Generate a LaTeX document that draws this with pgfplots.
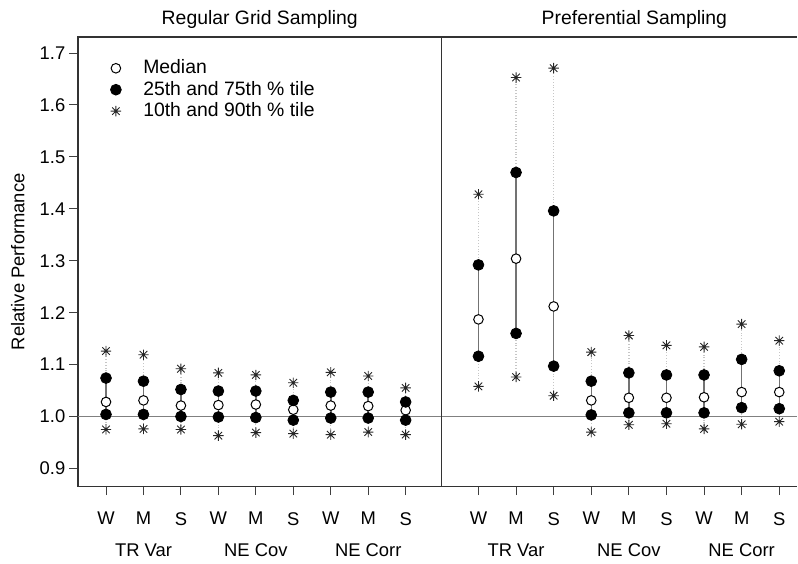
\documentclass[border=0pt]{standalone}
\usepackage{fontspec}
\setmainfont{Liberation Sans}
\usepackage{pgfplots}
\usepackage{pgfplotstable}
\pgfplotsset{compat=1.18}

% percentiles per method: 10th, 25th, median, 75th, 90th
\pgfplotstableread{
x p10   p25   p50   p75   p90
1 0.975 1.004 1.028 1.074 1.126
2 0.976 1.004 1.031 1.068 1.119
3 0.975 1.000 1.021 1.052 1.092
4 0.963 0.999 1.022 1.049 1.084
5 0.969 0.998 1.023 1.049 1.080
6 0.967 0.993 1.013 1.031 1.065
7 0.965 0.997 1.021 1.047 1.085
8 0.970 0.997 1.020 1.047 1.078
9 0.965 0.993 1.012 1.028 1.055
}\gridtab
\pgfplotstableread{
x p10   p25   p50   p75   p90
1 1.058 1.116 1.187 1.292 1.428
2 1.076 1.160 1.304 1.470 1.653
3 1.040 1.097 1.212 1.396 1.671
4 0.970 1.003 1.031 1.068 1.124
5 0.984 1.007 1.036 1.084 1.156
6 0.986 1.007 1.036 1.080 1.137
7 0.976 1.007 1.037 1.080 1.134
8 0.985 1.017 1.047 1.110 1.178
9 0.990 1.015 1.047 1.088 1.146
}\preftab

% R-style pch 8 asterisk
\pgfdeclareplotmark{rstar}{%
  \pgfpathmoveto{\pgfqpoint{-\pgfplotmarksize}{0pt}}\pgfpathlineto{\pgfqpoint{\pgfplotmarksize}{0pt}}%
  \pgfpathmoveto{\pgfqpoint{0pt}{-\pgfplotmarksize}}\pgfpathlineto{\pgfqpoint{0pt}{\pgfplotmarksize}}%
  \pgfpathmoveto{\pgfqpoint{-0.72\pgfplotmarksize}{-0.72\pgfplotmarksize}}\pgfpathlineto{\pgfqpoint{0.72\pgfplotmarksize}{0.72\pgfplotmarksize}}%
  \pgfpathmoveto{\pgfqpoint{-0.72\pgfplotmarksize}{0.72\pgfplotmarksize}}\pgfpathlineto{\pgfqpoint{0.72\pgfplotmarksize}{-0.72\pgfplotmarksize}}%
  \pgfusepathqstroke}

\pgfplotsset{
  panel/.style={
    scale only axis, height=225pt,
    ymin=0.865, ymax=1.731,
    xtick={1,...,9},
    xticklabels={W,{M\\[5.5pt]TR Var},S,W,{M\\[5.5pt]NE Cov},S,W,{M\\[5.5pt]NE Corr},S},
    xticklabel style={align=center, yshift=-5pt},
    tick align=outside, tick pos=left,
    major tick length=4.3pt,
    tick style={black!75, line width=0.5pt},
    axis line style={black!80, line width=0.6pt, -},
    font=\fontsize{9.2}{10.5}\selectfont,
    every axis title shift=0pt,
    title style={font=\fontsize{9.7}{11}\selectfont, anchor=base, yshift=6pt},
    /pgf/number format/assume math mode=true,
    clip=false,
  },
  whisk/.style={only marks, mark=none, forget plot,
    error bars/.cd, y dir=both, y explicit, error mark=none,
    error bar style={gray!45, densely dotted, line width=0.65pt}},
  box/.style={only marks, mark=none, forget plot,
    error bars/.cd, y dir=both, y explicit, error mark=none,
    error bar style={black!55, solid, line width=0.75pt}},
  med/.style={only marks, mark=*, mark size=2.4pt, mark options={fill=white, draw=black, line width=0.5pt}},
  quart/.style={only marks, mark=*, mark size=2.7pt, mark options={fill=black, draw=black}},
  tail/.style={only marks, mark=rstar, mark size=2.6pt, mark options={draw=black!85, line width=0.45pt}},
}

\begin{document}
\begin{tikzpicture}
\begin{axis}[panel, name=L, width=182pt,
  xmin=0.25, xmax=9.96,
  ytick={0.9,1.0,...,1.7},
  yticklabel style={xshift=1.5pt, /pgf/number format/.cd, fixed, fixed zerofill, precision=1},
  ylabel={Relative Performance},
  ylabel style={at={(axis description cs:-0.165,0.5)}, anchor=center},
  title={Regular Grid Sampling},
  legend style={at={(axis description cs:0.072,0.968)}, anchor=north west,
    draw=none, fill=none, font=\fontsize{9.7}{11}\selectfont, row sep=-1.8pt,
    /tikz/every odd column/.append style={column sep=9pt}},
  legend cell align=left]
\addplot[forget plot, gray, line width=0.7pt] coordinates {(0.25,1) (9.96,1)};
\addplot[whisk] table[x=x, y=p50, y error plus expr=\thisrow{p90}-\thisrow{p50}, y error minus expr=\thisrow{p50}-\thisrow{p10}] {\gridtab};
\addplot[box] table[x=x, y=p50, y error plus expr=\thisrow{p75}-\thisrow{p50}, y error minus expr=\thisrow{p50}-\thisrow{p25}] {\gridtab};
\addplot[med] table[x=x, y=p50] {\gridtab};
\addlegendentry{Median}
\addplot[quart] table[x=x, y=p25] {\gridtab};
\addlegendentry{25th and 75th \% tile}
\addplot[tail] table[x=x, y=p10] {\gridtab};
\addlegendentry{10th and 90th \% tile}
\addplot[quart, forget plot] table[x=x, y=p75] {\gridtab};
\addplot[tail, forget plot] table[x=x, y=p90] {\gridtab};
\end{axis}

\begin{axis}[panel, at={(L.south east)}, anchor=south west, width=178pt,
  xmin=0.02, xmax=9.48,
  axis x line*=bottom, axis y line*=left, ytick=\empty,
  title={Preferential Sampling},
  title style={at={(axis description cs:0.542,1)}}]
\draw[black!80, line width=0.6pt] (rel axis cs:0,1) -- (rel axis cs:1,1);
\addplot[forget plot, gray, line width=0.7pt] coordinates {(0.02,1) (9.48,1)};
\addplot[whisk] table[x=x, y=p50, y error plus expr=\thisrow{p90}-\thisrow{p50}, y error minus expr=\thisrow{p50}-\thisrow{p10}] {\preftab};
\addplot[box] table[x=x, y=p50, y error plus expr=\thisrow{p75}-\thisrow{p50}, y error minus expr=\thisrow{p50}-\thisrow{p25}] {\preftab};
\addplot[med] table[x=x, y=p50] {\preftab};
\addplot[quart] table[x=x, y=p25] {\preftab};
\addplot[quart] table[x=x, y=p75] {\preftab};
\addplot[tail] table[x=x, y=p10] {\preftab};
\addplot[tail] table[x=x, y=p90] {\preftab};
\end{axis}
% keep the margins of the original figure
\path (L.south west) ++(-39pt,-36.5pt);
\path (L.north west) ++(0,18.5pt);
\end{tikzpicture}
\end{document}
